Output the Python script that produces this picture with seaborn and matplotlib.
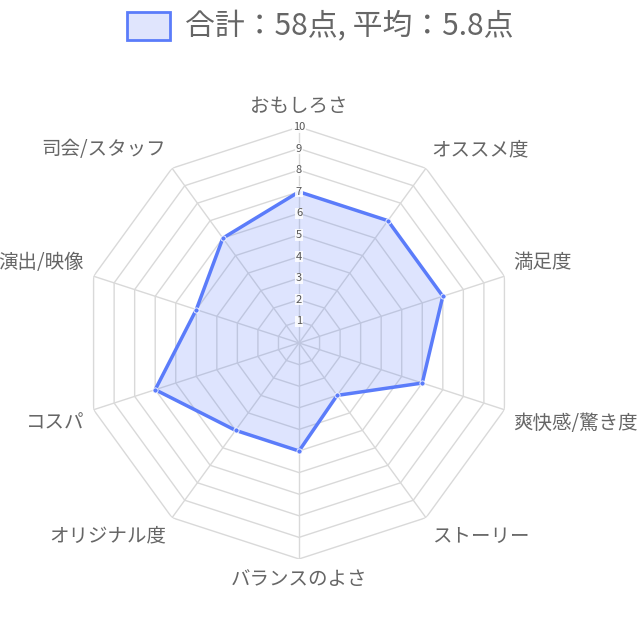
import numpy as np
import matplotlib.pyplot as plt
import seaborn as sns
from matplotlib.patches import Patch

categories = ['おもしろさ', 'オススメ度', '満足度', '爽快感/驚き度', 'ストーリー',
              'バランスのよさ', 'オリジナル度', 'コスパ', '演出/映像', '司会/スタッフ']
scores = [7, 7, 7, 6, 3, 5, 5, 7, 5, 6]
tick_levels = [1, 2, 3, 4, 5, 6, 7, 8, 9, 10]

sns.set_theme(style="white")
plt.rcParams['font.family'] = ['Noto Sans CJK JP', 'DejaVu Sans']

line_color = '#5b7cfa'
fill_color = '#5b7cfa'
grid_color = '#d9d9d9'
text_color = '#666666'

n = len(categories)
angles = np.linspace(0, 2 * np.pi, n, endpoint=False)
closed_angles = np.append(angles, angles[0])

fig = plt.figure(figsize=(6.4, 6.4), dpi=100)
ax = fig.add_axes([0.1297, 0.1266, 0.675, 0.675], projection='polar')
ax.set_theta_offset(np.pi / 2)
ax.set_theta_direction(-1)
ax.set_ylim(0, 10)
ax.grid(False)
ax.spines['polar'].set_visible(False)
ax.set_xticks([])
ax.set_yticks([])
ax.patch.set_alpha(0)

# polygon grid and spokes
for lvl in tick_levels:
    ax.plot(closed_angles, [lvl] * (n + 1), color=grid_color, lw=1, zorder=1)
for a in angles:
    ax.plot([a, a], [0, 10], color=grid_color, lw=1, zorder=1)

# data
vals = np.append(scores, scores[0])
ax.fill(closed_angles, vals, color=fill_color, alpha=0.2, zorder=2, lw=0)
ax.plot(closed_angles, vals, color=line_color, lw=2.5, zorder=3)
ax.scatter(angles, scores, color=line_color, s=14, zorder=4, edgecolors='white', linewidths=0.6)

# tick labels
for lvl in tick_levels:
    ax.text(0, lvl, str(lvl), ha='center', va='center', fontsize=8, color='#555555',
            bbox=dict(facecolor='white', edgecolor='none', pad=0.5, alpha=0.85), zorder=5)

# category labels
for a, lab in zip(angles, categories):
    deg = np.degrees(a) % 360
    if np.isclose(deg, 0) or np.isclose(deg, 180):
        ha = 'center'
    elif deg < 180:
        ha = 'left'
    else:
        ha = 'right'
    va = 'bottom' if (deg < 90 or deg > 270) else 'top'
    ax.text(a, 10.45, lab, ha=ha, va=va, fontsize=14, color=text_color, clip_on=False)

handle = Patch(facecolor='#e0e5fd', edgecolor=line_color, linewidth=2)
fig.legend([handle], ['合計：58点, 平均：5.8点'], loc='upper center', bbox_to_anchor=(0.5, 1.01),
           frameon=False, fontsize=21.5, labelcolor=text_color,
           handlelength=1.45, handleheight=1.07, handletextpad=0.5, borderaxespad=0.2)

fig.savefig('out.png', dpi=100)
